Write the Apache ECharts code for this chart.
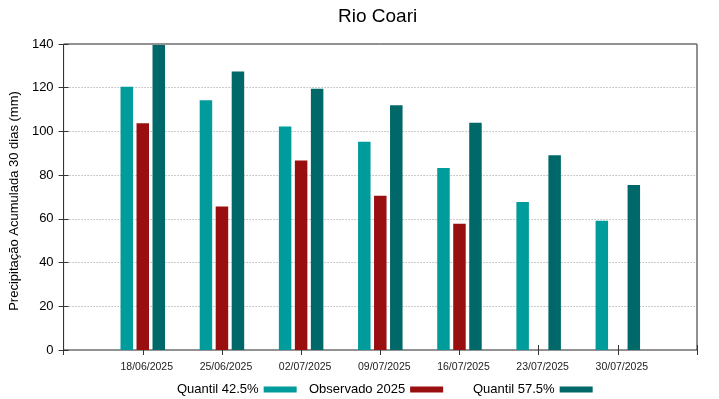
<!DOCTYPE html>
<html>
<head>
<meta charset="utf-8">
<script src="https://cdn.jsdelivr.net/npm/echarts@6/dist/echarts.min.js"></script>
<style>
	html, body { margin: 0; padding: 0; background: #fff; }
	#chart { width: 719px; height: 399px; }
</style>
</head>
<body>
<div id="chart"></div>
<script>
	// datas das semanas
	var dates = ['18/06/2025', '25/06/2025', '02/07/2025', '09/07/2025', '16/07/2025', '23/07/2025', '30/07/2025'];
	var q425 = [120.4, 114.3, 102.3, 95.3, 83.3, 67.7, 59.1];
	var observado = [103.7, 65.7, 86.7, 70.6, 57.8, null, null];
	var q575 = [139.5, 127.4, 119.5, 112.0, 104.0, 89.1, 75.5];
	var yTicks = [0, 20, 40, 60, 80, 100, 120, 140];

	var font = 'Liberation Sans, Arial, sans-serif';

	// posição no eixo x = índice + 1 (eixo vai de 0 a 8)
	function toPoints(arr) {
		return arr.map(function (v, i) { return [i + 1, v]; });
	}

	var chart = echarts.init(document.getElementById('chart'));

	function legendFor(name, left) {
		return {
			data: [name],
			left: left,
			top: 378,
			align: 'right',
			itemWidth: 33,
			itemHeight: 6,
			icon: 'rect',
			textStyle: { fontFamily: font, fontSize: 13, color: '#000' }
		};
	}

	var option = {
		animation: false,
		title: {
			text: 'Rio Coari',
			left: 333,
			top: 2,
			textStyle: { fontFamily: font, fontSize: 19, fontWeight: 'normal', color: '#000' }
		},
		legend: [
			legendFor('Quantil 42.5%', 172),
			legendFor('Observado 2025', 304),
			legendFor('Quantil 57.5%', 468)
		],
		grid: {
			left: 59, right: 22, top: 44, bottom: 49,
			show: true,
			borderColor: '#222',
			borderWidth: 1
		},
		xAxis: [{
			type: 'value',
			min: 0, max: 8, interval: 1,
			axisLine: { show: false },
			axisTick: { inside: true, length: 5, lineStyle: { color: '#333' } },
			splitLine: { show: false },
			axisLabel: {
				fontFamily: font, fontSize: 10.5, color: '#222', margin: 12,
				padding: [0, 0, 0, 8],
				formatter: function (v) { return dates[v - 1] || ''; }
			}
		}, {
			type: 'value',
			position: 'top',
			min: 0, max: 8, interval: 1,
			axisLine: { show: false },
			axisTick: { inside: true, length: 5, lineStyle: { color: '#333' } },
			splitLine: { show: false },
			axisLabel: { show: false }
		}],
		yAxis: [{
			type: 'value',
			min: 0, max: 140, interval: 20,
			name: 'Precipitação Acumulada 30 dias (mm)',
			nameLocation: 'middle',
			nameGap: 33,
			nameTextStyle: { fontFamily: font, fontSize: 13, color: '#000', padding: [0, 8, 0, 0] },
			axisLine: { show: false },
			axisTick: { inside: true, length: 5, lineStyle: { color: '#333' } },
			axisLabel: { fontFamily: font, fontSize: 13, color: '#000', margin: 10 },
			splitLine: { show: true, lineStyle: { color: '#999', type: [1, 2], width: 1 } }
		}, {
			type: 'value',
			position: 'right',
			min: 0, max: 140, interval: 20,
			axisLine: { show: false },
			axisTick: { inside: true, length: 5, lineStyle: { color: '#333' } },
			axisLabel: { show: false },
			splitLine: { show: false }
		}],
		series: [{
			name: 'Quantil 42.5%',
			type: 'bar',
			data: toPoints(q425),
			barWidth: 12.5,
			barGap: '28%',
			itemStyle: { color: '#009b9b' }
		}, {
			name: 'Observado 2025',
			type: 'bar',
			data: toPoints(observado),
			barWidth: 12.5,
			barGap: '28%',
			itemStyle: { color: '#990f0f' }
		}, {
			name: 'Quantil 57.5%',
			type: 'bar',
			data: toPoints(q575),
			barWidth: 12.5,
			barGap: '28%',
			itemStyle: { color: '#006868' }
		}]
	};

	chart.setOption(option);
</script>
</body>
</html>
